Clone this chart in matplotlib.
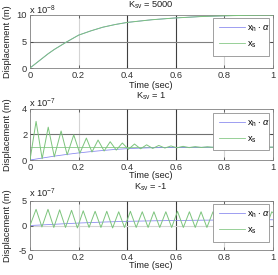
import matplotlib
matplotlib.use('Agg')
import matplotlib.pyplot as plt
from matplotlib.lines import Line2D

plt.rcParams['font.family'] = ['Liberation Sans', 'DejaVu Sans']
plt.rcParams['mathtext.fontset'] = 'custom'
plt.rcParams['mathtext.rm'] = 'Liberation Sans'
plt.rcParams['mathtext.it'] = 'Liberation Sans:italic'
plt.rcParams['mathtext.bf'] = 'Liberation Sans:bold'

# ---------------- data ----------------
titles = [r'K$_\mathregular{sv}$ = 5000', r'K$_\mathregular{sv}$ = 1', r'K$_\mathregular{sv}$ = -1']
exponents = [r'x 10$^{-8}$', r'x 10$^{-7}$', r'x 10$^{-7}$']
xticks = [0, 0.2, 0.4, 0.6, 0.8, 1]
xticklabels = ['0', '0.2', '0.4', '0.6', '0.8', '1']
yticks_top = [0, 5, 10]
yticks_mid = [0, 2, 4]
yticks_bot = [-5, 0, 5]
legend_labels = [r'$\mathregular{x_h\cdot}\,\alpha$', r'$\mathregular{x_s}$']

# Ksv = 5000 (units 1e-8)
t_top = [0, 0.025, 0.05, 0.075, 0.1, 0.15, 0.2, 0.25, 0.3, 0.35, 0.4, 0.5, 0.6, 0.7, 0.8, 0.9, 1.0]
xs_top = [0, 0.9, 1.8, 2.7, 3.5, 4.9, 6.2, 7.0, 7.7, 8.2, 8.6, 9.1, 9.45, 9.7, 9.85, 9.95, 10.0]
xh_top = [0, 0.9, 1.8, 2.7, 3.5, 4.9, 6.2, 7.0, 7.7, 8.2, 8.6, 9.1, 9.45, 9.7, 9.85, 9.95, 10.0]

# Ksv = 1 (units 1e-7)
t_mid_h = [0, 0.05, 0.1, 0.15, 0.2, 0.25, 0.3, 0.35, 0.4, 0.45, 0.5, 0.6, 0.7, 0.8, 0.9, 1.0]
xh_mid = [0, 0.15, 0.3, 0.43, 0.55, 0.65, 0.74, 0.82, 0.88, 0.92, 0.95, 0.98, 0.99, 1.0, 1.0, 1.0]
t_mid_s = [0, 0.025, 0.05, 0.075, 0.1, 0.128, 0.153, 0.18, 0.205, 0.232, 0.255, 0.28,
           0.305, 0.33, 0.355, 0.38, 0.405, 0.43, 0.455, 0.48, 0.505, 0.53, 0.555, 0.58,
           0.605, 0.63, 0.655, 0.68, 0.705, 0.73, 0.755, 0.78, 0.805, 0.83, 0.855, 0.88,
           0.905, 0.93, 0.955, 0.98, 1.0]
xs_mid = [0, 3.0, 0.1, 2.55, 0.25, 2.25, 0.4, 1.95, 0.52, 1.7, 0.62, 1.55,
          0.7, 1.42, 0.77, 1.32, 0.83, 1.24, 0.87, 1.18, 0.9, 1.13, 0.93, 1.09,
          0.95, 1.06, 0.96, 1.04, 0.97, 1.03, 0.98, 1.02, 0.99, 1.01, 0.99, 1.01,
          1.0, 1.0, 1.0, 1.0, 1.0]
ref_mid_t = [0, 1.0]
ref_mid = [1.0, 1.0]

# Ksv = -1 (units 1e-7)
t_bot_h = [0, 0.05, 0.1, 0.15, 0.2, 0.25, 0.3, 0.35, 0.4, 0.5, 0.6, 0.7, 0.8, 0.9, 1.0]
xh_bot = [0, 0.12, 0.25, 0.38, 0.5, 0.6, 0.7, 0.78, 0.85, 0.95, 1.02, 1.08, 1.12, 1.15, 1.17]
t_bot_s = [0, 0.025, 0.049, 0.074, 0.098, 0.122, 0.146, 0.171, 0.195, 0.219, 0.243, 0.268,
           0.292, 0.316, 0.340, 0.365, 0.389, 0.413, 0.437, 0.462, 0.486, 0.510, 0.534,
           0.559, 0.583, 0.607, 0.631, 0.656, 0.680, 0.704, 0.728, 0.753, 0.777, 0.801,
           0.825, 0.850, 0.874, 0.898, 0.922, 0.947, 0.971, 0.995, 1.0]
xs_bot = [0, 3.3, -0.3, 3.3, -0.4, 3.2, -0.4, 3.1, -0.5, 3.0, -0.4, 2.9,
          -0.4, 2.9, -0.5, 2.8, -0.4, 2.9, -0.4, 2.8, -0.4, 2.8, -0.4,
          2.8, -0.4, 2.9, -0.4, 2.8, -0.4, 2.8, -0.4, 2.8, -0.4, 2.8,
          -0.4, 2.8, -0.4, 2.8, -0.4, 2.8, -0.4, 2.8, 2.6]

# ---------------- style ----------------
W, H = 278, 275
FS = 6.7
C_H = '#8484ee'
C_S = '#7cc47c'
LW = 0.55

fig = plt.figure(figsize=(W / 100, H / 100), dpi=100)


def add_ax(top, bottom):
    return fig.add_axes([30 / W, 1 - bottom / H, 243 / W, (bottom - top) / H])


panels = [
    dict(top=15, bottom=68, ylim=(0, 10), yticks=yticks_top,
         h=(t_top, xh_top), s=(t_top, xs_top), ref=None,
         vgrid=['#d4d4d4', '#404040', '#404040', '#d4d4d4'],
         hgrid={5: '#808080'},
         leg=(213, 18, 269, 53), title_y=5, exp_y=10, xl_y=85),
    dict(top=108.5, bottom=160, ylim=(0, 4), yticks=yticks_mid,
         h=(t_mid_h, xh_mid), s=(t_mid_s, xs_mid), ref=(ref_mid_t, ref_mid),
         vgrid=['#d4d4d4', '#404040', '#404040', '#d4d4d4'],
         hgrid={2: '#707070'},
         leg=(213, 112.5, 269, 146.5), title_y=96, exp_y=103, xl_y=176),
    dict(top=201, bottom=250, ylim=(-5, 5), yticks=yticks_bot,
         h=(t_bot_h, xh_bot), s=(t_bot_s, xs_bot), ref=None,
         vgrid=['#d4d4d4', '#404040', '#404040', '#d4d4d4'],
         hgrid={0: '#d4d4d4'},
         leg=(213, 204, 269, 238.5), title_y=187, exp_y=193, xl_y=265),
]

for i, p in enumerate(panels):
    ax = add_ax(p['top'], p['bottom'])
    ax.set_xlim(0, 1)
    ax.set_ylim(*p['ylim'])
    for xv, c in zip(xticks[1:-1], p['vgrid']):
        ax.axvline(xv, color=c, lw=0.8, zorder=0)
    for yv, c in p['hgrid'].items():
        ax.axhline(yv, color=c, lw=0.8, zorder=0)
    if p['ref'] is not None:
        ax.plot(p['ref'][0], p['ref'][1], color=C_S, lw=LW, zorder=1)
    ax.plot(p['h'][0], p['h'][1], color=C_H, lw=LW, zorder=2)
    ax.plot(p['s'][0], p['s'][1], color=C_S, lw=LW + 0.15, zorder=3)
    ax.set_xticks(xticks)
    ax.set_xticklabels(xticklabels)
    ax.set_yticks(p['yticks'])
    ax.set_yticklabels([str(v) for v in p['yticks']])
    ax.tick_params(direction='in', length=2.5, width=0.5, top=True, right=True,
                   labelsize=FS, pad=2, colors='#333333')
    for sp in ax.spines.values():
        sp.set_color('#808080')
        sp.set_linewidth(0.6)

    axh = p['bottom'] - p['top']
    lx0, ly0, lx1, ly1 = p['leg']
    bx = (lx0 - 30) / 243
    bw = (lx1 - lx0) / 243
    by1 = 1 - (ly0 - p['top']) / axh
    handles = [Line2D([], [], color=C_H, lw=LW), Line2D([], [], color=C_S, lw=LW)]
    leg = ax.legend(handles, legend_labels, loc='upper left',
                    bbox_to_anchor=(bx, by1 - 0.5, bw, 0.5), bbox_transform=ax.transAxes,
                    mode='expand', borderaxespad=0, fancybox=False, framealpha=1,
                    edgecolor='#909090', fontsize=FS, handlelength=2.8,
                    handletextpad=0.25, labelspacing=0.6, borderpad=0.6)
    leg.get_frame().set_linewidth(0.6)
    leg.set_zorder(10)

    fig.text(151 / W, 1 - p['title_y'] / H, titles[i], fontsize=FS, ha='center', va='center',
             color='#222222')
    fig.text(29 / W, 1 - p['exp_y'] / H, exponents[i], fontsize=FS, ha='left', va='center',
             color='#222222')
    fig.text(151 / W, 1 - p['xl_y'] / H, 'Time (sec)', fontsize=FS, ha='center', va='center',
             color='#222222')
    fig.text(8 / W, 1 - (p['top'] + p['bottom']) / 2 / H, 'Displacement (m)', fontsize=FS,
             rotation=90, ha='center', va='center', color='#222222')

fig.savefig('out.png', dpi=100)
